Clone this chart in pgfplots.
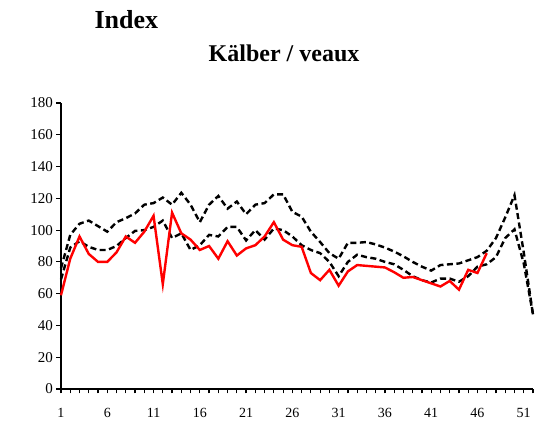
\documentclass[border=0pt]{standalone}
\usepackage{fontspec}
\setmainfont{Liberation Serif}
\usepackage{pgfplots}
\pgfplotsset{compat=1.18}
\usepackage{pgfplotstable}

% week, current year (red), upper band, lower band
\pgfplotstableread{
w   cur
1   59
2   82
3   96
4   85
5   80
6   80
7   86
8   96
9   92
10  99
11  109
12  66
13  111
14  98
15  94
16  87.5
17  90
18  82
19  93
20  84
21  88.5
22  90.5
23  96
24  105
25  94
26  90.5
27  89.5
28  73
29  68.5
30  75
31  65
32  74
33  78
34  77.5
35  77
36  76.5
37  73.5
38  70
39  70.5
40  68.5
41  66.5
42  64.5
43  68
44  62.5
45  75
46  73
47  85.5
}\cur

\pgfplotstableread{
w   hi     lo
1   76     69
2   97     89
3   104    93
4   106    89.5
5   102.5  87.5
6   99     87.5
7   105    90
8   107.5  95
9   110.5  99.5
10  116    100
11  117    102
12  120.5  106
13  116    95
14  123.5  98
15  116    87.5
16  105    90.5
17  116    97
18  121.5  96
19  113.5  102
20  118    102
21  110    93.5
22  116    100
23  117    94
24  122.5  101
25  122.5  100
26  111.5  96
27  108.5  90.5
28  99     87.5
29  92.5   85.5
30  85.5   80
31  82     71
32  92     80
33  92     84.5
34  92.5   83
35  91     82
36  89     80
37  86.5   78.5
38  83.5   75
39  80     71
40  77     68.5
41  74.5   67
42  78     69.5
43  78.5   69.5
44  79     67.5
45  81     71
46  83     77
47  87     78.5
48  95     83
49  108    95
50  122    100.5
51  86     79
52  47     47
}\band

\begin{document}
\begin{tikzpicture}[x=1pt,y=1pt]
\path[use as bounding box] (0,0) rectangle (541,428);
\node[anchor=base west, font=\fontsize{26}{28}\selectfont\bfseries] at (91,399) {Index};
\node[anchor=base, font=\fontsize{24}{26}\selectfont\bfseries] at (284,366) {Kälber / veaux};
\begin{axis}[
    at={(61pt,39pt)}, anchor=origin,
    scale only axis, width=472pt, height=286pt,
    xmin=1, xmax=52, ymin=0, ymax=180,
    axis lines=left,
    axis line style={-, line width=1.4pt},
    ytick={0,20,...,180},
    xtick={1,...,52},
    xticklabels={1,,,,,6,,,,,11,,,,,16,,,,,21,,,,,26,,,,,31,,,,,36,,,,,41,,,,,46,,,,,51,},
    tick align=outside,
    major tick length=4.5pt,
    tick style={black, line width=1.2pt},
    /pgf/number format/assume math mode=true,
    ticklabel style={font=\fontsize{15}{17}\selectfont},
    xticklabel style={yshift=-11pt, font=\fontsize{14}{16}\selectfont},
    clip=false,
]
\addplot[black, line width=2.4pt, dash pattern=on 6pt off 3.5pt] table[x=w, y=hi] {\band};
\addplot[black, line width=2.4pt, dash pattern=on 6pt off 3.5pt] table[x=w, y=lo] {\band};
\addplot[red, line width=2.4pt] table[x=w, y=cur] {\cur};
\end{axis}
\end{tikzpicture}
\end{document}
